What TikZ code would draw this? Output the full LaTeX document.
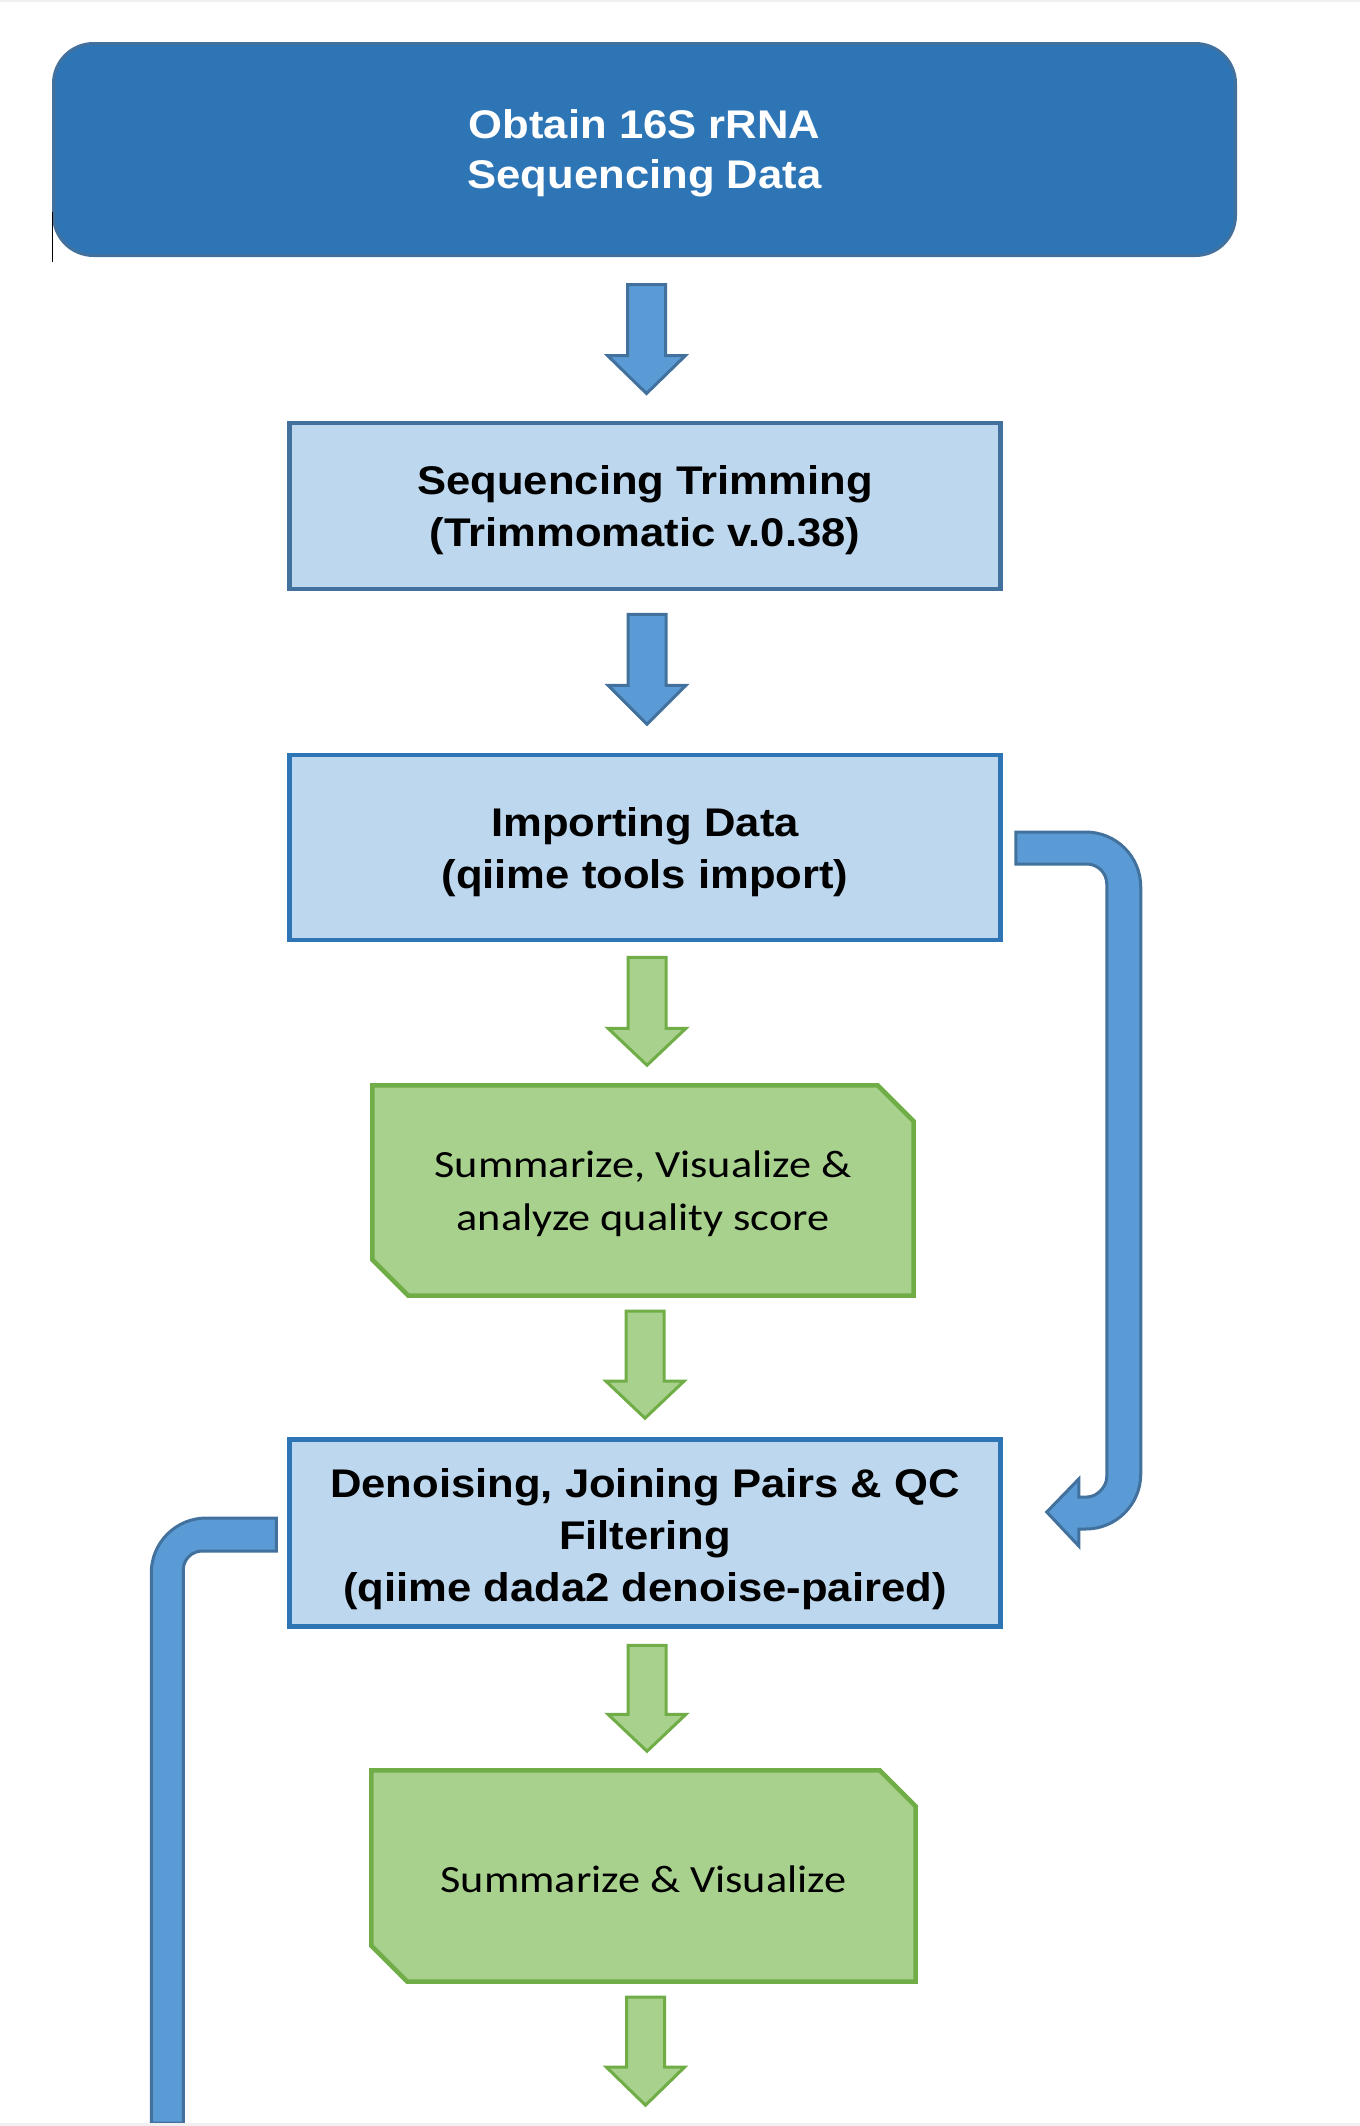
\documentclass[tikz,border=0pt]{standalone}
\usepackage{fontspec}
\usetikzlibrary{calc}
\newfontfamily\bsans[FakeStretch=1.09]{Liberation Sans}
\newfontfamily\carl[FakeStretch=1.15]{Carlito}
\definecolor{topfill}{HTML}{2E75B6}
\definecolor{topdraw}{HTML}{41719C}
\definecolor{lbfill}{HTML}{BDD7EE}
\definecolor{lbdraw}{HTML}{2E75B6}
\definecolor{arfill}{HTML}{5B9BD5}
\definecolor{gfill}{HTML}{A9D18E}
\definecolor{gdraw}{HTML}{70AD47}
\pgfdeclarelayer{bg}
\pgfsetlayers{bg,main}
% #1 from node, #2 gap, #3 shaft length, #4 head length, #5 style
\newcommand\blockdown[5]{%
  \path[#5] ($(#1.south)+(-17,#2)$) -- ($(#1.south)+(21,#2)$) -- ++(0,#3) -- ++(20,0)
    -- ++(-39,#4) -- ++(-39,-#4) -- ++(20,0) -- cycle;}
\begin{document}
\begin{tikzpicture}[x=1pt,y=-1pt,
  topbox/.style={rectangle, rounded corners=40pt, fill=topfill, draw=topdraw, line width=3pt,
    inner sep=0pt},
  toptext/.style={inner sep=0pt, align=center, text=white,
    font=\bsans\bfseries\fontsize{40}{50}\selectfont},
  lbox/.style={rectangle, fill=lbfill, draw=lbdraw, line width=4.5pt, inner sep=0pt},
  btext/.style={inner sep=0pt, align=center, text=black,
    font=\bsans\bfseries\fontsize{40}{52}\selectfont},
  gbox/.style={rectangle, inner sep=0pt},
  gtext/.style={inner sep=0pt, align=center, text=black,
    font=\carl\fontsize{38.5}{53}\selectfont},
  goutline/.style={fill=gfill, draw=gdraw, line width=4.5pt, line join=miter},
  barrow/.style={fill=arfill, draw=topdraw, line width=3pt, line join=miter},
  garrow/.style={fill=gfill, draw=gdraw, line width=3pt, line join=miter},
  uconn/.style={fill=arfill, draw=topdraw, line width=3pt, line join=miter}]
\useasboundingbox (0,0) rectangle (1360,2126);

% boxes
\node[topbox, minimum width=1182pt, minimum height=212pt] (n1) at (644.5,149.5) {};
\node[lbox, draw=topdraw, minimum width=711pt, minimum height=166pt] (n2) at (645,506) {};
\node[lbox, minimum width=711pt, minimum height=185pt] (n3) at (645,847.5) {};
\node[gbox, minimum width=541pt, minimum height=210pt] (g1) at (643,1190.5) {};
\node[lbox, minimum width=711pt, minimum height=187pt] (n4) at (645,1533) {};
\node[gbox, minimum width=544pt, minimum height=211pt] (g2) at (643.5,1876) {};

% texts
\node[toptext] (n1t) at ([yshift=-4pt]n1.center) {Obtain 16S rRNA\\Sequencing Data};
\node[btext] (n2t) at ([yshift=-4pt]n2.center) {Sequencing Trimming\\(Trimmomatic v.0.38)};
\node[btext] (n3t) at ([yshift=-5pt]n3.center) {Importing Data\\(qiime tools import)};
\node[gtext] (g1t) at ([yshift=-3pt]g1.center) {Summarize, Visualize \&\\analyze quality score};
\node[btext] (n4t) at ([yshift=-6pt]n4.center) {Denoising, Joining Pairs \& QC\\Filtering\\(qiime dada2 denoise-paired)};
\node[gtext] (g2t) at ([yshift=-3pt]g2.center) {Summarize \& Visualize};

% background and chamfered green outlines
\begin{pgfonlayer}{bg}
\fill[white] (0,0) rectangle (1360,2126);
\foreach \g in {g1,g2}{
  \path[goutline] (\g.north west) -- ([xshift=-36pt]\g.north east) -- ([yshift=-36pt]\g.north east)
    -- (\g.south east) -- ([xshift=36pt]\g.south west) -- ([yshift=36pt]\g.south west) -- cycle;
}
\end{pgfonlayer}

% block arrows
\blockdown{n1}{27.5}{71}{38}{barrow}
\blockdown{n2}{23}{71}{39}{barrow}
\blockdown{n3}{15}{71}{37}{garrow}
\blockdown{g1}{15.5}{70}{37}{garrow}
\blockdown{n4}{16.5}{69}{37}{garrow}
\blockdown{g2}{15.5}{70}{38}{garrow}

% right U-turn connector: n3 -> n4
\coordinate (R) at (n3.east);
\coordinate (Q) at (n4.east);
\path[uconn] ($(R)+(13,-15.5)$) -- ($(R)+(83,-15.5)$)
  .. controls ($(R)+(113.4,-15.5)$) and ($(R)+(138,9.1)$) .. ($(R)+(138,39.5)$)
  -- ($(Q)+(138,-59)$)
  .. controls ($(Q)+(138,-28.6)$) and ($(Q)+(113.4,-4)$) .. ($(Q)+(83,-4)$)
  -- ($(Q)+(76,-4)$) -- ($(Q)+(76,13)$) -- ($(Q)+(44,-21)$) -- ($(Q)+(76,-54)$)
  -- ($(Q)+(76,-36)$) -- ($(Q)+(84,-36)$)
  .. controls ($(Q)+(95,-36)$) and ($(Q)+(104,-47)$) .. ($(Q)+(104,-56)$)
  -- ($(R)+(104,36.5)$)
  .. controls ($(R)+(104,25.5)$) and ($(R)+(95,16.5)$) .. ($(R)+(84,16.5)$)
  -- ($(R)+(13,16.5)$) -- cycle;

% left connector from n4 going down off the page
\coordinate (L) at (n4.west);
\coordinate (offL) at (167,2123);
\path[uconn] ($(L)+(-11,-15)$) -- ($(L)+(-81,-15)$)
  .. controls ($(L)+(-111.4,-15)$) and ($(L)+(-136,9.6)$) .. ($(L)+(-136,40)$)
  -- (offL -| {$(L)+(-136,0)$}) -- (offL -| {$(L)+(-104,0)$})
  -- ($(L)+(-104,37)$)
  .. controls ($(L)+(-104,26.5)$) and ($(L)+(-95.5,18)$) .. ($(L)+(-85,18)$)
  -- ($(L)+(-11,18)$) -- cycle;

% thin edge artefact at left of top box
\draw[black, line width=1pt] (52,212) -- (52,262);
% page edge shading
\fill[black!6] (0,0) rectangle (1360,2);
\fill[black!6] (0,2123) rectangle (1360,2126);
\end{tikzpicture}
\end{document}
